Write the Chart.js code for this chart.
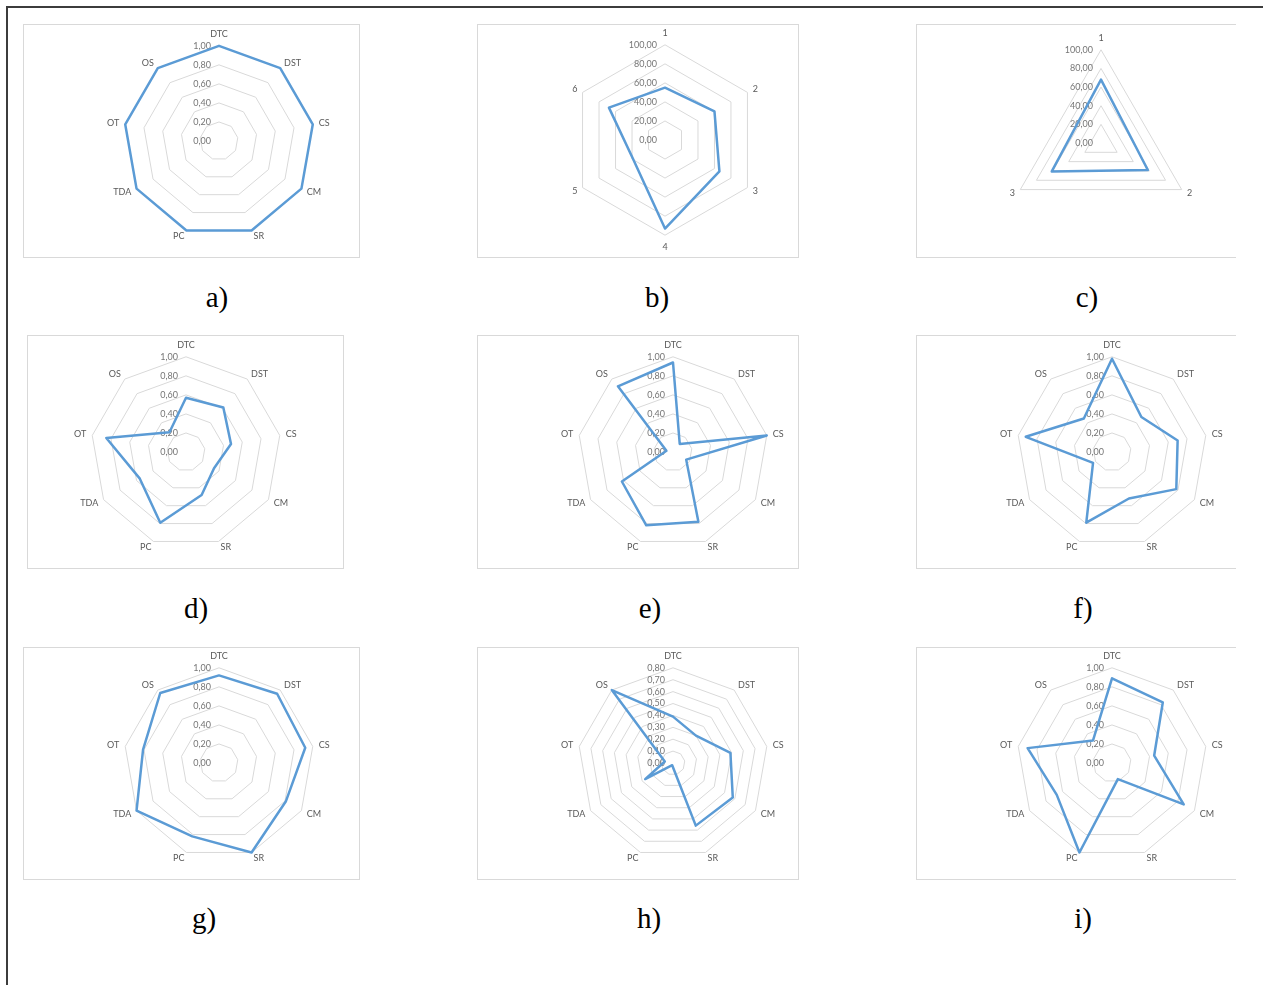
<!DOCTYPE html>
<html>
<head>
<meta charset="utf-8">
<script src="https://cdn.jsdelivr.net/npm/chart.js@4.4.1/dist/chart.umd.min.js"></script>
<style>
  body { margin: 0; background: #fff; width: 1263px; height: 985px; position: relative; overflow: hidden; }
  .frame { position: absolute; left: 6px; top: 6px; width: 1300px; height: 1000px; border-left: 2px solid #3c3c3c; border-top: 2px solid #3c3c3c; }
  .box { position: absolute; border: 1px solid #d9d9d9; box-sizing: border-box; }
  .box.open { border-right: none; }
  canvas { position: absolute; }
  .cap { position: absolute; font-family: "Liberation Serif", serif; font-size: 29px; line-height: 1; transform: translate(-50%, -50%); color: #000; }
</style>
</head>
<body>
<div class="frame"></div>
<script>
// axis labels
var criteria = ['DTC', 'DST', 'CS', 'CM', 'SR', 'PC', 'TDA', 'OT', 'OS'];
var hexLabels = ['1', '2', '3', '4', '5', '6'];
var triLabels = ['1', '2', '3'];

// series values
var valuesA = [1.00, 1.00, 1.00, 1.00, 1.00, 1.00, 1.00, 1.00, 1.00];
var valuesB = [55, 60, 66, 93, 39, 68];
var valuesC = [68, 58, 61];
var valuesD = [0.57, 0.61, 0.48, 0.34, 0.48, 0.79, 0.56, 0.85, 0.27];
var valuesE = [0.94, 0.11, 1.00, 0.16, 0.78, 0.82, 0.62, 0.07, 0.90];
var valuesF = [0.98, 0.48, 0.70, 0.78, 0.52, 0.79, 0.23, 0.92, 0.46];
var valuesG = [0.92, 0.95, 0.92, 0.81, 1.00, 0.82, 1.00, 0.81, 0.96];
var valuesH = [0.39, 0.30, 0.49, 0.58, 0.56, 0.02, 0.27, 0.07, 0.80];
var valuesI = [0.89, 0.83, 0.45, 0.87, 0.18, 1.00, 0.67, 0.90, 0.31];

// scale ranges
var unitMax = 1, unitStep = 0.2;
var pctMax = 100, pctStep = 20;
var hMax = 0.8, hStep = 0.1;

var panels = [
  { cap: 'a)', labels: criteria, data: valuesA, max: unitMax, step: unitStep, box: [23, 24, 337, 234], cv: [69, 26, 300, 224], capXY: [217, 297] },
  { cap: 'b)', labels: hexLabels, data: valuesB, max: pctMax, step: pctStep, box: [477, 24, 322, 234], cv: [515, 29, 300, 224], capXY: [657, 297] },
  { cap: 'c)', labels: triLabels, data: valuesC, max: pctMax, step: pctStep, box: [916, 24, 320, 234], cv: [951, 25, 300, 220], capXY: [1087, 297], open: true },
  { cap: 'd)', labels: criteria, data: valuesD, max: unitMax, step: unitStep, box: [27, 335, 317, 234], cv: [36, 337, 300, 224], capXY: [196, 608] },
  { cap: 'e)', labels: criteria, data: valuesE, max: unitMax, step: unitStep, box: [477, 335, 322, 234], cv: [523, 337, 300, 224], capXY: [650, 608] },
  { cap: 'f)', labels: criteria, data: valuesF, max: unitMax, step: unitStep, box: [916, 335, 320, 234], cv: [962, 337, 300, 224], capXY: [1083, 608], open: true },
  { cap: 'g)', labels: criteria, data: valuesG, max: unitMax, step: unitStep, box: [23, 647, 337, 233], cv: [69, 648, 300, 224], capXY: [204, 918] },
  { cap: 'h)', labels: criteria, data: valuesH, max: hMax, step: hStep, box: [477, 647, 322, 233], cv: [523, 648, 300, 224], capXY: [649, 918] },
  { cap: 'i)', labels: criteria, data: valuesI, max: unitMax, step: unitStep, box: [916, 647, 320, 233], cv: [962, 648, 300, 224], capXY: [1083, 918], open: true }
];

// Excel-style tick labels: right-aligned, just left of the vertical axis, under the line
var tickLabels = {
  id: 'tickLabels',
  beforeDatasetsDraw: function (chart) {
    var s = chart.scales.r;
    var ctx = chart.ctx;
    ctx.save();
    ctx.font = '9px Lato';
    ctx.fillStyle = '#767676';
    ctx.textAlign = 'right';
    ctx.textBaseline = 'middle';
    s.ticks.forEach(function (t) {
      ctx.fillText(t.label, s.xCenter - 8, s.yCenter - s.getDistanceFromCenterForValue(t.value));
    });
    ctx.restore();
  }
};

// Excel centres the side labels vertically on their anchor; chart.js hangs them above/below
var centerSideLabels = {
  id: 'centerSideLabels',
  afterLayout: function (chart) {
    var s = chart.scales.r;
    (s._pointLabelItems || []).forEach(function (item, i) {
      var deg = Math.round(s.getIndexAngle(i) * 180 / Math.PI) % 360;
      if (deg === 0 || deg === 180) return;
      var h = item.bottom - item.top;
      var anchor = (deg < 90 || deg > 270) ? item.y + h : item.y;
      item.y = anchor - h / 2;
      item.top = item.y;
      item.bottom = item.y + h;
    });
  }
};

panels.forEach(function (p) {
  var box = document.createElement('div');
  box.className = 'box' + (p.open ? ' open' : '');
  box.style.left = p.box[0] + 'px';
  box.style.top = p.box[1] + 'px';
  box.style.width = p.box[2] + 'px';
  box.style.height = p.box[3] + 'px';
  document.body.appendChild(box);

  var canvas = document.createElement('canvas');
  canvas.width = p.cv[2];
  canvas.height = p.cv[3];
  canvas.style.left = p.cv[0] + 'px';
  canvas.style.top = p.cv[1] + 'px';
  document.body.appendChild(canvas);

  var cap = document.createElement('div');
  cap.className = 'cap';
  cap.textContent = p.cap;
  cap.style.left = p.capXY[0] + 'px';
  cap.style.top = p.capXY[1] + 'px';
  document.body.appendChild(cap);

  new Chart(canvas, {
    type: 'radar',
    data: {
      labels: p.labels,
      datasets: [{
        data: p.data,
        borderColor: '#5b9bd5',
        borderWidth: 2.5,
        borderJoinStyle: 'round',
        pointRadius: 0,
        fill: false,
        tension: 0
      }]
    },
    options: {
      responsive: false,
      animation: false,
      devicePixelRatio: 1,
      layout: { padding: 0 },
      plugins: { legend: { display: false }, tooltip: { enabled: false } },
      scales: {
        r: {
          min: 0,
          max: p.max,
          angleLines: { display: false },
          grid: { color: '#d9d9d9', lineWidth: 1 },
          ticks: {
            display: false,
            stepSize: p.step,
            callback: function (v) { return v.toFixed(2).replace('.', ','); }
          },
          pointLabels: {
            padding: 6,
            color: '#595959',
            font: { family: 'Lato', size: 9 }
          }
        }
      }
    },
    plugins: [tickLabels, centerSideLabels]
  });
});
</script>
</body>
</html>
